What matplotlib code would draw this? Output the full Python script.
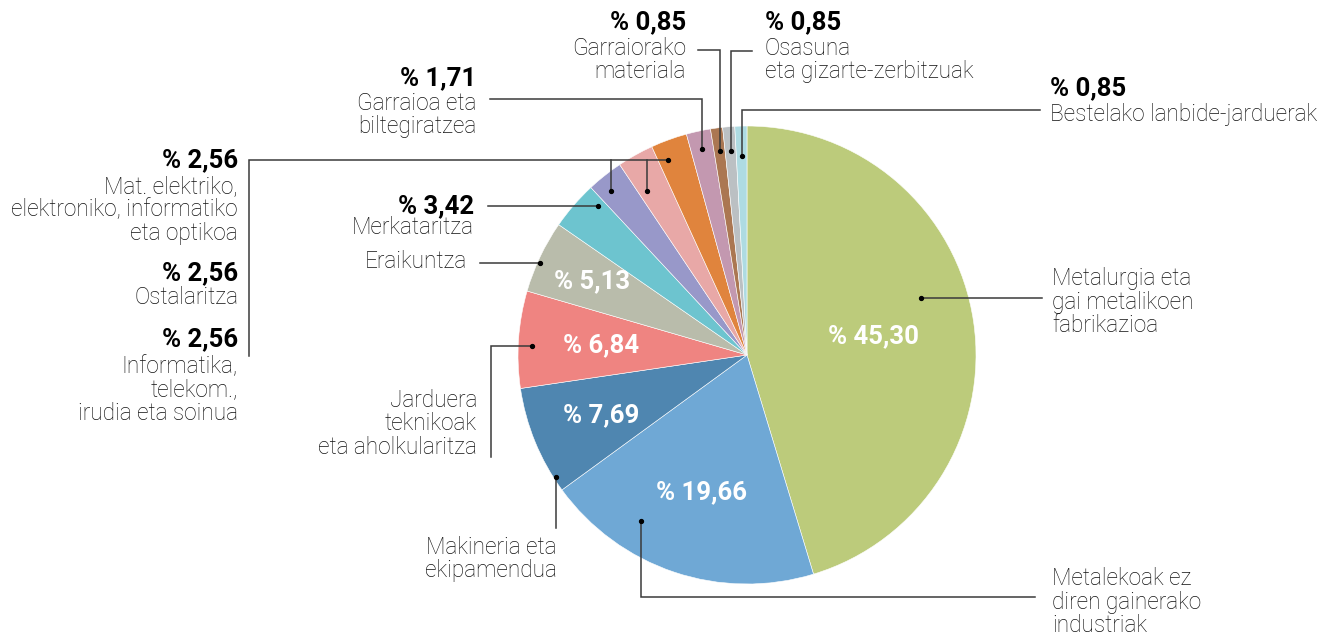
import numpy as np
import matplotlib
matplotlib.use("Agg")
import matplotlib.pyplot as plt

# data
sectors = ["Metalurgia eta\ngai metalikoen\nfabrikazioa",
           "Metalekoak ez\ndiren gainerako\nindustriak",
           "Makineria eta\nekipamendua",
           "Jarduera\nteknikoak\neta aholkularitza",
           "Eraikuntza",
           "Merkataritza",
           "Informatika,\ntelekom.,\nirudia eta soinua",
           "Ostalaritza",
           "Mat. elektriko,\nelektroniko, informatiko\neta optikoa",
           "Garraioa eta\nbiltegiratzea",
           "Garraiorako\nmateriala",
           "Osasuna\neta gizarte-zerbitzuak",
           "Bestelako lanbide-jarduerak"]
values = [45.30, 19.66, 7.69, 6.84, 5.13, 3.42, 2.56, 2.56, 2.56, 1.71, 0.85, 0.85, 0.85]
value_text = ["% 45,30", "% 19,66", "% 7,69", "% 6,84", "% 5,13", "% 3,42",
              "% 2,56", "% 2,56", "% 2,56", "% 1,71", "% 0,85", "% 0,85", "% 0,85"]
colors = ["#bccb7b", "#6fa8d5", "#4f86b0", "#ef8481", "#b9bcab", "#6dc4cf",
          "#9898c9", "#e8a8a7", "#e0843d", "#c398b0", "#ab7752", "#bbc0c3", "#aedbe2"]

W, H = 1335, 635
cx, cy, R = 747, 355, 229

fig = plt.figure(figsize=(W / 100, H / 100), dpi=100)
ax = fig.add_axes([0, 0, 1, 1])
wedges, _ = ax.pie(values, colors=colors, center=(cx, cy), radius=R,
                   startangle=-90, counterclock=True,
                   wedgeprops=dict(edgecolor="white", linewidth=0.4))
ax.set_xlim(0, W)
ax.set_ylim(H, 0)
ax.set_aspect("equal")
ax.axis("off")

LIGHT = dict(family="Roboto", weight="light", color="#111111", fontsize=16.3, linespacing=1.02)
BOLD = dict(family="Roboto", weight="bold", color="#000000", fontsize=18.5)


def point(i, frac, r):
    w = wedges[i]
    a = np.deg2rad(w.theta1 + frac * (w.theta2 - w.theta1))
    return cx + r * R * np.cos(a), cy + r * R * np.sin(a)


# percentages inside the big slices
inner_r = [0.56, 0.63, 0.69, 0.64, 0.75]
for i, r in enumerate(inner_r):
    x, y = point(i, 0.5, r)
    ax.text(x, y, value_text[i], ha="center", va="center", family="Roboto",
            weight="bold", color="white", fontsize=18.5)

# leader lines: (slice, frac in slice, radius frac, moves)
leaders = [
    (0, 0.44, 0.80, [("h", 1042)]),
    (1, 0.70, 0.86, [("v", 597), ("h", 1035)]),
    (2, 0.13, 0.99, [("v", 528)]),
    (3, 0.44, 0.94, [("h", 491), ("v", 457)]),
    (4, 0.42, 0.99, [("h", 480)]),
    (5, 0.84, 0.92, [("h", 488)]),
    (6, 0.35, 0.93, [("v", 160)]),
    (7, 0.25, 0.84, [("v", 160)]),
    (8, 0.29, 0.92, [("v", 160), ("h", 249), ("v", 356)]),
    (9, 0.50, 0.92, [("v", 99), ("h", 490)]),
    (10, 0.50, 0.90, [("v", 50), ("h", 698)]),
    (11, 0.50, 0.895, [("v", 51), ("h", 752)]),
    (12, 0.50, 0.87, [("v", 110), ("h", 1040)]),
]
for i, frac, r, moves in leaders:
    x, y = point(i, frac, r)
    xs, ys = [x], [y]
    for kind, v in moves:
        if kind == "h":
            x = v
        else:
            y = v
        xs.append(x)
        ys.append(y)
    ax.plot(xs, ys, color="#3a3a3a", lw=1.1, solid_joinstyle="miter")
    ax.plot(xs[0], ys[0], "o", color="black", ms=2.8)

# outside labels: (slice, x, ha, value y or None, name y)
labels = [
    (0, 1052, "left", None, 302),
    (1, 1052, "left", None, 602),
    (2, 557, "right", None, 559),
    (3, 477, "right", None, 424),
    (4, 467, "right", None, 262),
    (5, 474, "right", 206, 228),
    (8, 238, "right", 160, 210),
    (7, 238, "right", 273, 298),
    (6, 238, "right", 339, 390),
    (9, 476, "right", 78, 115),
    (10, 686, "right", 22, 60),
    (11, 765, "left", 22, 60),
    (12, 1050, "left", 88, 115),
]
for i, x, ha, vy, ny in labels:
    if vy is not None:
        ax.text(x, vy, value_text[i], ha=ha, va="center", **BOLD)
    ax.text(x, ny, sectors[i], ha=ha, va="center", multialignment=ha, **LIGHT)

fig.savefig("out.png", dpi=100)
